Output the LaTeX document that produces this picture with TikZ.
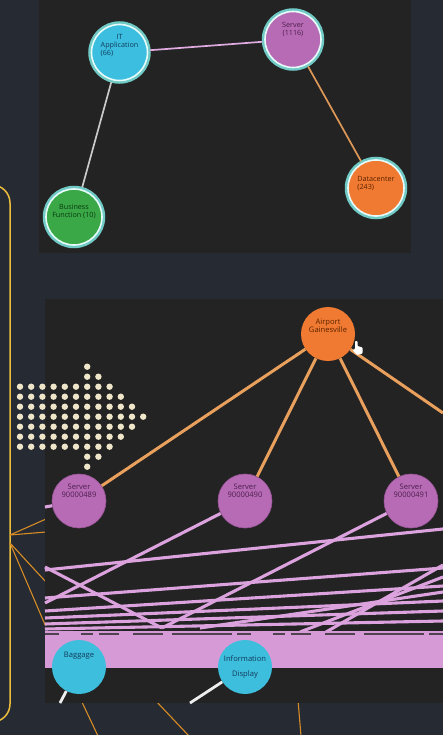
\documentclass[tikz,border=0pt]{standalone}
\usepackage{fontspec}
\usepackage{calc}
\newfontfamily\uif{Open Sans}
\definecolor{bg}{HTML}{262A33}
\definecolor{panel}{HTML}{232323}
\definecolor{ybox}{HTML}{EDBE3C}
\definecolor{oline}{HTML}{D88C25}
\definecolor{itc}{HTML}{3BBEE0}
\definecolor{srvc}{HTML}{B86BB5}
\definecolor{srvb}{HTML}{985596}
\definecolor{dcc}{HTML}{F07A32}
\definecolor{bfc}{HTML}{3AA847}
\definecolor{ringc}{HTML}{E6FBFA}
\definecolor{glowc}{HTML}{6FC9C4}
\definecolor{lilac}{HTML}{DBA2DE}
\definecolor{band}{HTML}{D69AD7}
\definecolor{ored}{HTML}{E9A05C}
\definecolor{wline}{HTML}{EEEEEE}
\definecolor{dotc}{HTML}{EFE6C9}
\definecolor{cyan2}{HTML}{3DBEDD}
\definecolor{txblue}{HTML}{123A5A}
\definecolor{txpurp}{HTML}{4A1F4C}
\definecolor{txor}{HTML}{5A2200}
\definecolor{txgr}{HTML}{0A3A10}
\begin{document}
\begin{tikzpicture}[x=1pt,y=-1pt,
  topnode/.style={circle,minimum size=56pt,inner sep=0pt,draw=ringc,line width=1.6pt,
     preaction={draw=glowc,line width=6.5pt}},
  lownode/.style={circle,minimum size=54pt,inner sep=0pt},
  toptxt/.style={font=\uif\fontsize{7.2}{8}\selectfont,inner sep=0pt},
  lowtxt/.style={font=\uif\fontsize{7.6}{8}\selectfont,inner sep=0pt,align=center},
  thinor/.style={draw=oline,line width=1.1pt},
  pinkedge/.style={draw=lilac,line width=3.1pt},
  oredge/.style={draw=ored,line width=3pt},
  wedge/.style={draw=wline,line width=2.8pt}
]
\useasboundingbox (0,0) rectangle (443,735);
\fill[bg] (0,0) rectangle (443,735);
\begin{scope}
\clip (0,0) rectangle (443,735);
% yellow rounded frame
\draw[draw=ybox,line width=1.5pt,rounded corners=18pt] (-60,185) rectangle (10,722);
% thin orange connectors from the frame
\coordinate (fa) at (10,535);
\coordinate (fb) at (10,543);
\coordinate (ta1) at (46,519);
\coordinate (ta2) at (46,532);
\coordinate (tb1) at (46,582);
\coordinate (tb2) at (46,627);
\draw[thinor] (fa) -- (ta1);
\draw[thinor] (fa) -- (ta2);
\draw[thinor] (fb) -- (tb1);
\draw[thinor] (fb) -- (tb2);
\coordinate (ba1) at (81,700);
\coordinate (bb1) at (98,736);
\coordinate (ba2) at (155,700);
\coordinate (bb2) at (189,736);
\coordinate (ba3) at (298,700);
\coordinate (bb3) at (301,736);
\draw[thinor] (ba1) -- (bb1);
\draw[thinor] (ba2) -- (bb2);
\draw[thinor] (ba3) -- (bb3);
% panels
\fill[panel] (39,0) rectangle (411,253);
\fill[panel] (45,299) rectangle (443,703);

% ---------- top graph ----------
\node[topnode,fill=itc,label={[name=itT,toptxt,text=txblue,align=left,yshift=7pt]center:{\makebox[\widthof{Application}]{IT}\\Application\\(66)}}] (it) at (119.5,52.5) {};
\node[topnode,fill=srvc,label={[name=srvT,toptxt,text=txpurp,align=center,yshift=10pt]center:{Server\\(1116)}}] (srv) at (293,39.5) {};
\node[topnode,fill=dcc,label={[name=dcT,toptxt,text=txor,align=left,yshift=4pt]center:{Datacenter\\(243)}}] (dc) at (376,188) {};
\node[topnode,fill=bfc,label={[name=bfT,toptxt,text=txgr,align=center,yshift=6pt]center:{Business\\Function (10)}}] (bf) at (74,217) {};
\draw[draw=lilac!90!white,line width=1.7pt,shorten <=2pt,shorten >=2pt] (it) -- (srv);
\draw[draw=wline!85!black,line width=1.7pt,shorten <=2pt,shorten >=2pt] (it) -- (bf);
\draw[draw=ored!95!black,line width=1.7pt,shorten <=2pt,shorten >=2pt] (srv) -- (dc);

% ---------- lower graph ----------
% pink connectors
\coordinate (pa1) at (45,570);  \coordinate (pa2) at (443,529);
\coordinate (p31) at (45,567);  \coordinate (p32) at (162,628);
\coordinate (pb1) at (45,598);  \coordinate (pb2) at (443,568);
\coordinate (pc1) at (443,565); \coordinate (pc2) at (326,632);
\coordinate (pe1) at (45,611);  \coordinate (pe2) at (443,586);
\coordinate (pf1) at (45,618);  \coordinate (pf2) at (443,601);
\coordinate (pg1) at (45,624);  \coordinate (pg2) at (443,611);
\coordinate (ph1) at (45,629);  \coordinate (ph2) at (443,621);
\coordinate (pi1) at (443,577); \coordinate (pi2) at (300,632);
\coordinate (pk1) at (200,628); \coordinate (pk2) at (443,592);
\coordinate (s89e) at (45,507);
\coordinate (s90e) at (45,603);
\coordinate (s91e) at (162,628);
\draw[pinkedge] (pa1) -- (pa2);
\draw[pinkedge] (p31) -- (p32);
\draw[pinkedge] (pb1) -- (pb2);
\draw[pinkedge] (pc1) -- (pc2);
\draw[pinkedge] (pe1) -- (pe2);
\draw[pinkedge] (pf1) -- (pf2);
\draw[pinkedge] (pg1) -- (pg2);
\draw[pinkedge] (ph1) -- (ph2);
\draw[pinkedge] (pi1) -- (pi2);
\draw[pinkedge] (pk1) -- (pk2);
% band
\fill[band] (45,631) rectangle (443,668);
\draw[draw=panel!75!band,line width=1.2pt,dash pattern=on 14pt off 22pt on 12pt off 6pt on 20pt off 14pt on 30pt off 9pt on 60pt off 5pt]
  (45,634) -- (443,634);

% nodes
\node[lownode,fill=dcc,label={[name=apT,lowtxt,text=txor,yshift=8pt]center:{Airport\\Gainesville}}] (ap) at (328,334) {};
\node[lownode,fill=srvc,draw=srvb,line width=0.6pt,label={[name=s89T,lowtxt,text=txpurp,yshift=10.5pt]center:{Server\\90000489}}] (s89) at (79,501) {};
\node[lownode,fill=srvc,draw=srvb,line width=0.6pt,label={[name=s90T,lowtxt,text=txpurp,yshift=10.5pt]center:{Server\\90000490}}] (s90) at (245,501) {};
\node[lownode,fill=srvc,draw=srvb,line width=0.6pt,label={[name=s91T,lowtxt,text=txpurp,yshift=10.5pt]center:{Server\\90000491}}] (s91) at (411,501) {};
\node[lownode,fill=cyan2,label={[name=bgT,lowtxt,text=txblue,yshift=11pt]center:{Baggage}}] (bag) at (79,667) {};
\node[lownode,fill=cyan2,label={[name=idT,font=\uif\fontsize{7.6}{15}\selectfont,inner sep=0pt,align=center,text=txblue,yshift=0.5pt]center:{Information\\Display}}] (info) at (245,667) {};

\draw[pinkedge] (s89) -- (s89e);
\draw[pinkedge] (s90) -- (s90e);
\draw[pinkedge] (s91) -- (s91e);

\coordinate (apr) at (443,413);
\draw[oredge] (ap) -- (s89);
\draw[oredge] (ap) -- (s90);
\draw[oredge] (ap) -- (s91);
\draw[oredge] (ap) -- (apr);

\coordinate (bge) at (60,703);
\coordinate (ide) at (190,703);
\draw[wedge] (bag) -- (bge);
\draw[wedge] (info) -- (ide);

% hand cursor
\fill[white,rounded corners=0.8pt] (355,341) -- (357.5,341) -- (357.5,346) -- (362.5,347.5) -- (362.5,353.5) -- (357,355) -- (352.5,350) -- (355,349) -- cycle;

% dotted arrow
\foreach \j/\a/\b in {0/6/6,1/6/7,2/0/8,3/0/9,4/0/10,5/0/11,6/0/10,7/0/9,8/0/8,9/6/7,10/6/6}{
  \foreach \i in {\a,...,\b}{
    \fill[dotc] ({20+11.2*\i},{366.7+10*\j}) circle (3.2pt);
  }
}
\end{scope}
\end{tikzpicture}
\end{document}
